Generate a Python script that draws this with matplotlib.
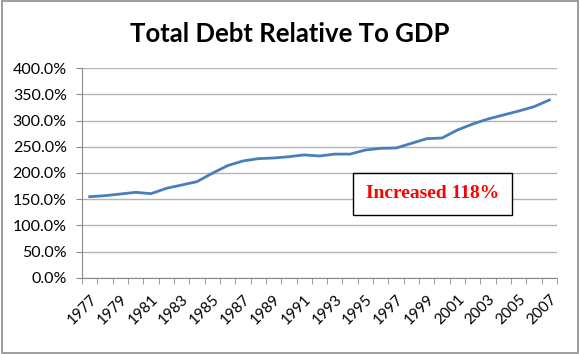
import numpy as np
import matplotlib
matplotlib.use("Agg")
import matplotlib.pyplot as plt
from matplotlib.ticker import FuncFormatter, MultipleLocator
from matplotlib.patches import Rectangle

years = list(range(1977, 2008))
debt_pct = [154.9, 156.8, 160.0, 163.2, 160.6, 170.8, 177.1, 183.5, 199.4, 214.0,
            222.9, 227.3, 228.6, 231.0, 234.5, 232.4, 236.0, 236.0, 243.8, 247.0,
            247.6, 256.5, 265.4, 266.7, 281.9, 293.3, 302.9, 310.5, 318.0, 326.3, 339.0]
title = "Total Debt Relative To GDP"
note = "Increased 118%"

plt.rcParams['font.family'] = ['Lato', 'DejaVu Sans']

fig = plt.figure(figsize=(5.8, 3.54), dpi=100)
fig.patches.append(Rectangle((0.003, 0.004), 0.994, 0.992, transform=fig.transFigure,
                             fill=False, edgecolor="#8c8c8c", linewidth=1.2))
ax = fig.add_axes([0.1414, 0.2147, 0.8189, 0.5932])

x = np.arange(len(years))
ax.plot(x, debt_pct, color="#4a7ebb", linewidth=2.0, solid_joinstyle="round")

ax.set_ylim(0, 400)
ax.set_xlim(-0.5, len(years) - 0.5)
ax.yaxis.set_major_locator(MultipleLocator(50))
ax.yaxis.set_major_formatter(FuncFormatter(lambda v, p: f"{v:.1f}%"))
ax.grid(axis="y", color="#b3b3b3", linewidth=1.0)
ax.set_axisbelow(True)

# category boundaries as tick marks, labels on every other year
ax.set_xticks(np.arange(-0.5, len(years), 1.0), minor=True)
ax.set_xticks(x[::2])
ax.set_xticklabels([str(y) for y in years[::2]], rotation=45, ha="right",
                   rotation_mode="anchor")
ax.tick_params(axis="x", which="major", length=0, pad=10, labelsize=11)
ax.tick_params(axis="x", which="minor", length=4, color="#8c8c8c", direction="out")
ax.tick_params(axis="y", length=4, color="#8c8c8c", labelsize=11.5, pad=7)

for s in ["top", "right"]:
    ax.spines[s].set_visible(False)
for s in ["left", "bottom"]:
    ax.spines[s].set_color("#8c8c8c")

fig.text(0.5, 0.904, title, ha="center", va="center", fontsize=18.5, fontweight="bold")

ax.text(0.738, 0.40, note, transform=ax.transAxes, ha="center", va="center",
        fontsize=14, fontweight="bold", color="red",
        family=["Liberation Serif", "DejaVu Serif"],
        bbox=dict(boxstyle="square,pad=0.65", facecolor="white", edgecolor="black",
                  linewidth=1.0))

fig.savefig("out.png", dpi=100)
